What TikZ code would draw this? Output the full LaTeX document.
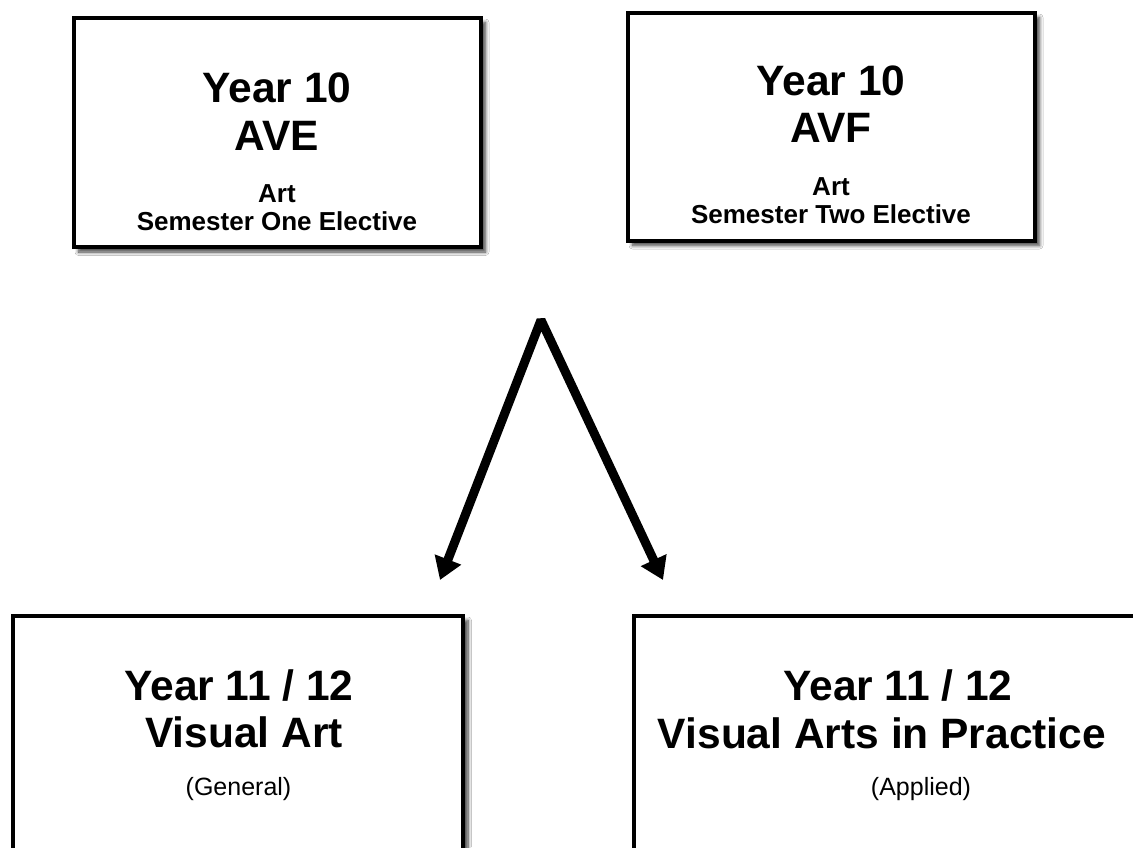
\documentclass[tikz,border=0pt]{standalone}
\usepackage{fontspec}
\setmainfont{Liberation Sans}
\usetikzlibrary{arrows.meta,shadows.blur}
\tikzset{
  box/.style={draw=black, line width=4pt, fill=white, rectangle,
    blur shadow={shadow xshift=5pt, shadow yshift=-5pt, shadow blur steps=8, shadow blur radius=3.5pt, shadow blur extra rounding=0pt, shadow opacity=75},
    inner sep=0pt, outer sep=0pt},
  bigtxt/.style={font=\bfseries\fontsize{42.5}{48}\selectfont, inner sep=0pt, anchor=base},
  smalltxt/.style={font=\bfseries\fontsize{26}{30}\selectfont, inner sep=0pt, anchor=base},
  parentxt/.style={font=\fontsize{25}{30}\selectfont, inner sep=0pt, anchor=base},
  flow/.style={line width=9pt, line join=bevel,
    {Triangle[length=22pt,width=27pt]}-{Triangle[length=22pt,width=27pt]}}
}
\begin{document}
\begin{tikzpicture}[x=1pt,y=-1pt]
\useasboundingbox (0,0) rectangle (1133,847);
\clip (0,0) rectangle (1133,847);
\fill[white] (0,0) rectangle (1133,847);

% top boxes
\node[box, minimum width=407pt, minimum height=229.5pt] (ave) at (277,132.25) {};
\node[box, minimum width=407pt, minimum height=228pt] (avf) at (831,126.5) {};
% bottom boxes
\node[box, minimum width=450.5pt, minimum height=384.5pt] (va) at (237.75,807.75) {};
\node[box, minimum width=666pt, minimum height=384.5pt] (vap) at (967,807.75) {};

% texts top-left
\node[bigtxt] (aveA) at (277,102) {Year 10};
\node[bigtxt] (aveB) at (277,150) {AVE};
\node[smalltxt] (aveC) at (277,202) {Art};
\node[smalltxt] (aveD) at (277,230) {Semester One Elective};

% texts top-right
\node[bigtxt] (avfA) at (831,95) {Year 10};
\node[bigtxt] (avfB) at (831,142) {AVF};
\node[smalltxt] (avfC) at (831,195) {Art};
\node[smalltxt] (avfD) at (831,223) {Semester Two Elective};

% texts bottom-left
\node[bigtxt] (vaA) at (239,700) {Year 11 / 12};
\node[bigtxt] (vaB) at (244,747) {Visual Art};
\node[parentxt] (vaC) at (238.5,795) {(General)};

% texts bottom-right
\node[bigtxt] (vapA) at (898,700) {Year 11 / 12};
\node[bigtxt] (vapB) at (882,748) {Visual Arts in Practice};
\node[parentxt] (vapC) at (921,795) {(Applied)};

% arrows
\coordinate (apex) at (541,320);
\coordinate (lt) at (440,580);
\coordinate (rt) at (663,580);
\draw[flow] (lt) -- (apex) -- (rt);
\end{tikzpicture}
\end{document}
